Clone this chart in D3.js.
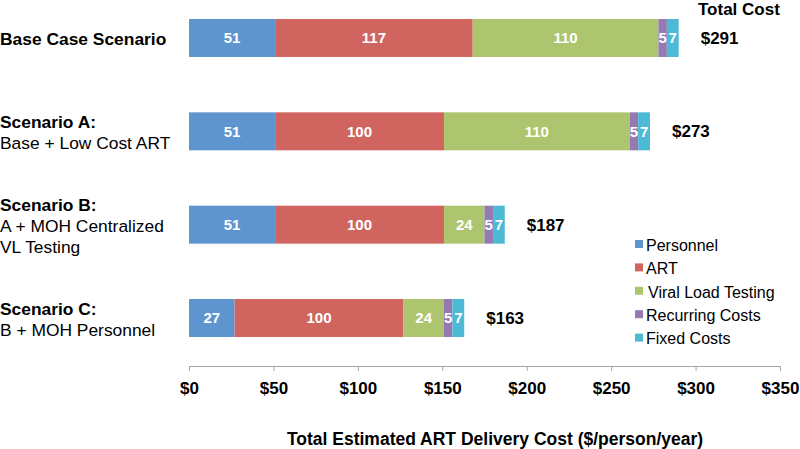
<!DOCTYPE html>
<html>
<head>
<meta charset="utf-8">
<script src="https://cdn.jsdelivr.net/npm/d3@7"></script>
<style>
  body { margin: 0; background: #fff; }
  svg { font-family: "Liberation Sans", Arial, sans-serif; }
  .axis path, .axis line { stroke: #a6a6a6; }
</style>
</head>
<body>
<div id="chart"></div>
<script>
//chart data
var scenarios = ["Base Case Scenario", "Scenario A:", "Scenario B:", "Scenario C:"];
var subtitles = [[], ["Base + Low Cost ART"], ["A + MOH Centralized", "VL Testing"], ["B + MOH Personnel"]];
var components = ["Personnel", "ART", "Viral Load Testing", "Recurring Costs", "Fixed Costs"];
var personnel = [51, 51, 51, 27];
var art = [117, 100, 100, 100];
var viralLoad = [110, 110, 24, 24];
var recurring = [5, 5, 5, 5];
var fixed = [7, 7, 7, 7];
var totals = [291, 273, 187, 163];
var xTicks = [0, 50, 100, 150, 200, 250, 300, 350];

var colors = ["#5f95ce", "#d0655f", "#adc56e", "#9479b3", "#4cb9d5"];

var svgWidth = 800;
var svgHeight = 449;

var svg = d3.select("#chart").append("svg")
    .attr("width", svgWidth)
    .attr("height", svgHeight);

//build rows for stacking
var rows = scenarios.map(function(s, i) {
    return {
        scenario: s,
        "Personnel": personnel[i],
        "ART": art[i],
        "Viral Load Testing": viralLoad[i],
        "Recurring Costs": recurring[i],
        "Fixed Costs": fixed[i],
        total: totals[i]
    };
});

var stack = d3.stack().keys(components)(rows);

//scales
var x = d3.scaleLinear().domain([0, 350]).range([189, 780]);
var y = d3.scaleBand().domain(scenarios).range([19, 337]).paddingInner(0.593).paddingOuter(0);
var color = d3.scaleOrdinal().domain(components).range(colors);

//x axis
var xAxis = svg.append("g")
    .classed("axis", true)
    .attr("transform", "translate(0, 366)")
    .call(d3.axisBottom(x).tickValues(xTicks).tickSize(5).tickSizeOuter(5).tickFormat(function(d) { return "$" + d; }));

xAxis.selectAll("text")
    .attr("y", 16)
    .attr("dy", "0.71em")
    .attr("fill", "#000")
    .attr("font-size", "17px")
    .attr("font-weight", "bold")
    .attr("font-family", "'Liberation Sans', Arial, sans-serif");

//axis title
svg.append("text")
    .attr("x", 495)
    .attr("y", 445)
    .attr("text-anchor", "middle")
    .attr("font-size", "17.5px")
    .attr("font-weight", "bold")
    .text("Total Estimated ART Delivery Cost ($/person/year)");

//bar segments
var layers = svg.selectAll(".layer")
    .data(stack)
    .enter()
    .append("g")
    .classed("layer", true)
    .attr("fill", function(d) { return color(d.key); });

layers.selectAll("rect")
    .data(function(d) { return d; })
    .enter()
    .append("rect")
    .attr("x", function(d) { return x(d[0]); })
    .attr("y", function(d) { return y(d.data.scenario); })
    .attr("width", function(d) { return x(d[1]) - x(d[0]); })
    .attr("height", y.bandwidth());

//segment labels
layers.selectAll(".segLabel")
    .data(function(d) { return d; })
    .enter()
    .append("text")
    .classed("segLabel", true)
    .attr("x", function(d) { return (x(d[0]) + x(d[1])) / 2; })
    .attr("y", function(d) { return y(d.data.scenario) + y.bandwidth() / 2; })
    .attr("dy", "0.36em")
    .attr("text-anchor", "middle")
    .attr("fill", "#fff")
    .attr("font-size", "15px")
    .attr("font-weight", "bold")
    .text(function(d) { return d[1] - d[0]; });

//total labels
svg.selectAll(".totalLabel")
    .data(rows)
    .enter()
    .append("text")
    .classed("totalLabel", true)
    .attr("x", function(d) { return x(d3.sum(components, k => d[k])) + 22; })
    .attr("y", function(d) { return y(d.scenario) + y.bandwidth() / 2; })
    .attr("dy", "0.36em")
    .attr("font-size", "17px")
    .attr("font-weight", "bold")
    .text(function(d) { return "$" + d.total; });

svg.append("text")
    .attr("x", 698)
    .attr("y", 15)
    .attr("font-size", "17px")
    .attr("font-weight", "bold")
    .text("Total Cost");

//category labels
var lineGap = 21;
var catGroup = svg.selectAll(".cat")
    .data(rows)
    .enter()
    .append("text")
    .classed("cat", true)
    .attr("font-size", "17.4px")
    .attr("x", 0)
    .attr("y", function(d, i) {
        var n = subtitles[i].length + 1;
        return y(d.scenario) + y.bandwidth() / 2 + 7 - (n - 1) * lineGap / 2;
    });

catGroup.append("tspan")
    .attr("font-weight", "bold")
    .text(function(d) { return d.scenario; });

catGroup.each(function(d, i) {
    var t = d3.select(this);
    subtitles[i].forEach(function(s) {
        t.append("tspan")
            .attr("x", 0)
            .attr("dy", lineGap)
            .text(s);
    });
});

//legend
var legend = svg.selectAll(".legend")
    .data(components)
    .enter()
    .append("g")
    .classed("legend", true)
    .attr("transform", function(d, i) { return "translate(635, " + (245 + i * 23.4) + ")"; });

legend.append("rect")
    .attr("x", 0)
    .attr("y", -5)
    .attr("width", 8)
    .attr("height", 8)
    .attr("fill", function(d) { return color(d); });

legend.append("text")
    .attr("x", function(d) { return d === "Viral Load Testing" ? 13 : 11; })
    .attr("y", 0)
    .attr("dy", "0.36em")
    .attr("font-size", "16px")
    .text(function(d) { return d; });
</script>
</body>
</html>
